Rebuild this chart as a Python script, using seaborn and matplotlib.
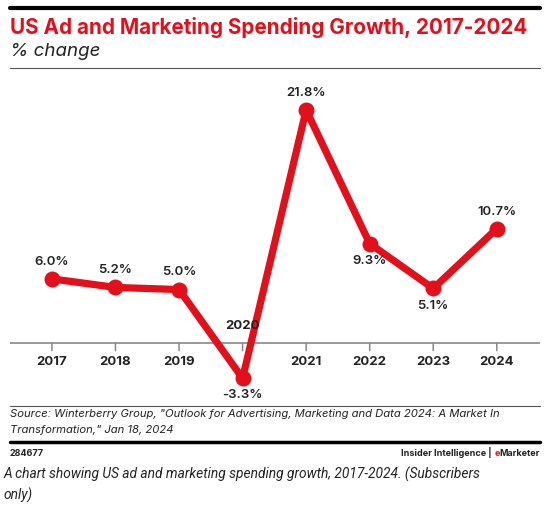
import matplotlib.pyplot as plt
import seaborn as sns
import pandas as pd

# Data
years = ['2017', '2018', '2019', '2020', '2021', '2022', '2023', '2024']
growth = [6.0, 5.2, 5.0, -3.3, 21.8, 9.3, 5.1, 10.7]
# label placement: above or below the point
label_side = ['above', 'above', 'above', 'below', 'above', 'below', 'below', 'above']

df = pd.DataFrame({'pos': range(len(years)), 'year': years, 'growth': growth})

RED = '#E3101B'
DARK = '#222222'
sns.set_style('white')
plt.rcParams['font.family'] = ['Inter', 'DejaVu Sans']

fig = plt.figure(figsize=(5.59, 5.08), dpi=100)
ax = fig.add_axes([10 / 559, 1 - 400 / 508, 530 / 559, 325 / 508])

sns.lineplot(data=df, x='pos', y='growth', ax=ax, color=RED, linewidth=5.2,
             marker='o', markersize=11.5, markeredgewidth=0, zorder=3)

ax.set_xlim(-0.66, 7.68)
ax.set_ylim(-5.33, 25.07)
ax.axhline(0, color='#888888', linewidth=1.2, zorder=1)
for s in ax.spines.values():
    s.set_visible(False)
ax.set_xticks([])
ax.set_yticks([])
ax.set_xlabel('')
ax.set_ylabel('')

# year ticks and labels
for p, yr, v in zip(df['pos'], years, growth):
    ax.annotate('', xy=(p, 0), xytext=(0, -5.5), textcoords='offset points',
                arrowprops=dict(arrowstyle='-', color='#888888', lw=1.1,
                                shrinkA=0, shrinkB=0), zorder=1)
    if v < 0:
        ax.annotate(yr, (p, 0), xytext=(0, 8), textcoords='offset points',
                    ha='center', va='bottom', fontsize=9.5, fontweight='bold', color=DARK)
    else:
        ax.annotate(yr, (p, 0), xytext=(0, -9), textcoords='offset points',
                    ha='center', va='top', fontsize=9.5, fontweight='bold', color=DARK)

# value labels
for p, v, side in zip(df['pos'], growth, label_side):
    off = 8 if side == 'above' else -8
    ax.annotate(f'{v:.1f}%', (p, v), xytext=(0, off), textcoords='offset points',
                ha='center', va='bottom' if side == 'above' else 'top',
                fontsize=9.5, fontweight='semibold', color=DARK)

# header
fig.add_artist(plt.Line2D([10 / 559, 540 / 559], [1 - 8 / 508] * 2, color='black', linewidth=3))
fig.text(10 / 559, 1 - 28 / 508, 'US Ad and Marketing Spending Growth, 2017-2024',
         color=RED, fontsize=14.9, fontweight='bold', va='center', ha='left')
fig.text(10 / 559, 1 - 52 / 508, '% change', color=DARK, fontsize=13.5,
         style='italic', va='center', ha='left')
fig.add_artist(plt.Line2D([10 / 559, 540 / 559], [1 - 68 / 508] * 2, color='#555555', linewidth=0.8))

# footer
fig.add_artist(plt.Line2D([10 / 559, 540 / 559], [1 - 406 / 508] * 2, color='#555555', linewidth=0.8))
fig.text(10 / 559, 1 - 414 / 508,
         'Source: Winterberry Group, "Outlook for Advertising, Marketing and Data 2024: A Market In',
         color=DARK, fontsize=8.1, style='italic', va='center', ha='left')
fig.text(10 / 559, 1 - 430 / 508, 'Transformation," Jan 18, 2024',
         color=DARK, fontsize=8.1, style='italic', va='center', ha='left')
fig.add_artist(plt.Line2D([10 / 559, 540 / 559], [1 - 442 / 508] * 2, color='black', linewidth=2.5))
fig.text(10 / 559, 1 - 453 / 508, '284677', color=DARK, fontsize=6.5,
         fontweight='bold', va='center', ha='left')

# brand line: "Insider Intelligence | eMarketer" with a red "e"
renderer = fig.canvas.get_renderer()
x_right = 540 / 559
y_brand = 1 - 453 / 508
for part, col, gap in [('Marketer', DARK, 0), ('e', RED, 3), ('Insider Intelligence |', DARK, 0)]:
    t = fig.text(x_right, y_brand, part, color=col, fontsize=6.5, fontweight='bold',
                 va='center', ha='right')
    bb = t.get_window_extent(renderer=renderer)
    x_right = (bb.x0 - gap) / fig.bbox.width

fig.text(4 / 559, 1 - 474 / 508,
         'A chart showing US ad and marketing spending growth, 2017-2024. (Subscribers',
         color=DARK, fontsize=9.9, style='italic', va='center', ha='left',
         family=['Roboto', 'DejaVu Sans'])
fig.text(4 / 559, 1 - 495 / 508, 'only)', color=DARK, fontsize=9.9,
         style='italic', va='center', ha='left', family=['Roboto', 'DejaVu Sans'])

fig.savefig('out.png', dpi=100)
